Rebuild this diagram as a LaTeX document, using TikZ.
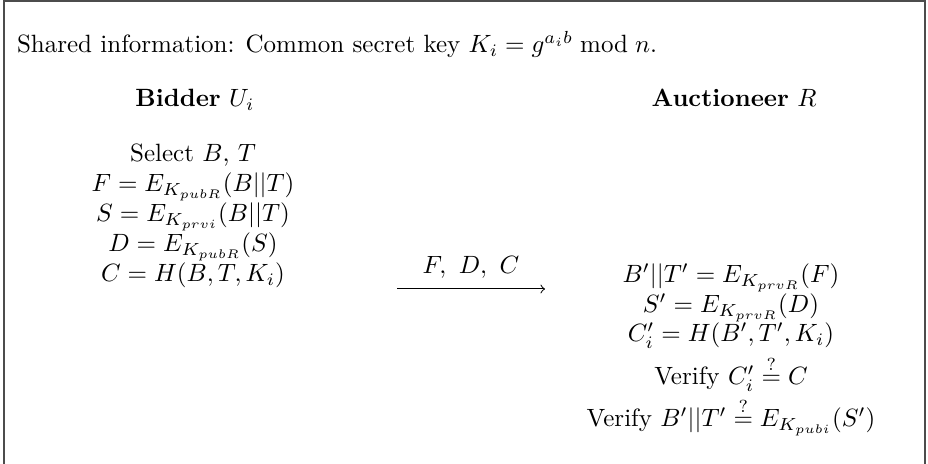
\documentclass[tikz,border=0pt]{standalone}
\usepackage{amsmath}
\begin{document}
\begin{tikzpicture}[x=0.4pt,y=-0.4pt,
  txt/.style={anchor=base,inner sep=0pt,outer sep=0pt},
  frame/.style={draw=black!70,line width=1.1pt}]
\useasboundingbox (0,0) rectangle (928,464);
\coordinate (fbl) at (4,470);
\coordinate (ftl) at (4,1);
\coordinate (ftr) at (925,1);
\coordinate (fbr) at (925,470);
\draw[frame] (fbl) -- (ftl) -- (ftr) -- (fbr);
\node[txt,anchor=base west] (shared) at (17,53) {Shared information: Common secret key $K_i=g^{a_ib} \bmod n$.};
\node[txt] (bidder) at (195,107) {\textbf{Bidder} $U_i$};
\node[txt] (auct) at (734,107) {\textbf{Auctioneer} $R$};
\node[txt] (l1) at (193,162) {Select $B$, $T$};
\node[txt] (l2) at (193,192) {$F=E_{K_{pubR}}(B||T)$};
\node[txt] (l3) at (193,222) {$S=E_{K_{prvi}}(B||T)$};
\node[txt] (l4) at (193,252) {$D=E_{K_{pubR}}(S)$};
\node[txt] (l5) at (193,282) {$C=H(B,T,K_i)$};
\node[txt] (r1) at (731,283) {$B'||T'=E_{K_{prvR}}(F)$};
\node[txt] (r2) at (731,313) {$S'=E_{K_{prvR}}(D)$};
\node[txt] (r3) at (731,342) {$C_i'=H(B',T',K_i)$};
\node[txt] (r4) at (731,385) {Verify $C_i'\stackrel{?}{=}C$};
\node[txt] (r5) at (731,427) {Verify $B'||T'\stackrel{?}{=}E_{K_{pubi}}(S')$};
\coordinate (as) at (397,289);
\coordinate (ae) at (545,289);
\draw[->,line width=0.4pt] (as) -- node[above=4pt,inner sep=0pt] (lab) {$F,\ D,\ C$} (ae);
\end{tikzpicture}
\end{document}
